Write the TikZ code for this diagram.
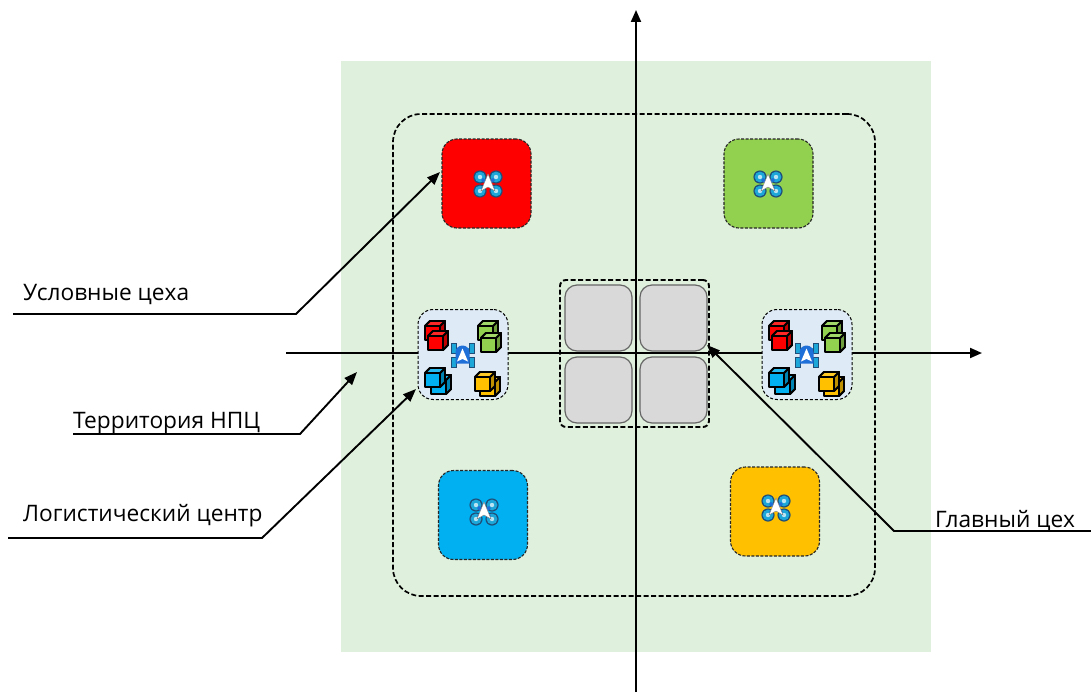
\documentclass[tikz,border=0pt]{standalone}
\usepackage{fontspec}
\setmainfont{Open Sans}
\usetikzlibrary{arrows.meta}
\definecolor{terr}{HTML}{DFF0DC}
\definecolor{cred}{HTML}{FF0000}
\definecolor{cgreen}{HTML}{92D050}
\definecolor{cblue}{HTML}{00B0F0}
\definecolor{corange}{HTML}{FFC000}
\definecolor{clog}{HTML}{DEEBF7}
\definecolor{cgray}{HTML}{D9D9D9}
\definecolor{dronedark}{HTML}{1F4E79}
\definecolor{robotblue}{HTML}{1F6FD8}
\definecolor{dronering}{HTML}{1CA7D8}
\tikzset{
  x=1pt,y=-1pt,
  box/.style={minimum width=#1,minimum height=#1,inner sep=0pt,outer sep=0pt,rounded corners=15pt},
  shop/.style={box=89pt,draw=black!85,dash pattern=on 3pt off 1.5pt,line width=1.1pt,fill=#1},
  logi/.style={box=90pt,draw=black,dash pattern=on 3pt off 2pt,line width=1pt,fill=clog},
  cell/.style={minimum width=67pt,minimum height=66pt,inner sep=0pt,outer sep=0pt,rounded corners=12pt,draw=black!60,line width=1.2pt,fill=cgray},
  zone/.style={draw=black,line width=1.7pt,dash pattern=on 5pt off 2.5pt},
  axis/.style={draw=black,line width=2pt,-{Triangle[length=12pt,width=10pt]}},
  leader/.style={draw=black,line width=1.9pt,-{Triangle[length=13pt,width=10pt]}},
  lab/.style={font=\fontsize{22.7}{27}\selectfont,anchor=base west,inner sep=0pt},
  pics/cube/.style={code={
    \draw[fill=#1,line width=1.9pt,line join=round] (0,5)--(5,0)--(20,0)--(20,14)--(15,19)--(0,19)--cycle;
    \draw[fill=#1!75!black,line width=1.9pt,line join=round] (15,5)--(20,0)--(20,14)--(15,19)--cycle;
    \draw[fill=#1!85!white,line width=1.9pt,line join=round] (0,5)--(5,0)--(20,0)--(15,5)--cycle;
  }},
  pics/drone/.style={code={
    \foreach \a/\b in {-8/-7,8/-7,-8/7,8/7}{
      \fill[dronedark] (\a,\b) circle (6.6);
      \fill[dronering] (\a,\b) circle (5.4);
      \fill[white!70!dronering] (\a,\b) circle (2.2);
    }
    \draw[robotblue,line width=3pt] (-6,-5)--(6,5) (6,-5)--(-6,5);
    \fill[white,draw=black!50,line width=0.4pt] (0,-10)--(7,7)--(0,3)--(-7,7)--cycle;
  }},
  pics/robot/.style={code={
    \draw[dronering,line width=1.6pt] (-9,-7)--(9,-7) (-9,7)--(9,7);
    \foreach \a/\b in {-9/-7,9/-7,-9/7,9/7}{
      \fill[dronering,draw=dronedark,line width=0.7pt] (\a-2.5,\b-5)rectangle(\a+2.5,\b+5);
    }
    \fill[robotblue] (-7,-3)..controls(-7,-8)and(-3,-10)..(0,-10)..controls(3,-10)and(7,-8)..(7,-3)--(7,8)--(-7,8)--cycle;
    \fill[white] (0,-7)--(5.5,6)--(0,3.5)--(-5.5,6)--cycle;
  }}
}
\begin{document}
\begin{tikzpicture}
\useasboundingbox (0,0) rectangle (1091,693);
\fill[white] (0,0) rectangle (1091,693);
\node[minimum width=590pt,minimum height=591pt,inner sep=0pt,fill=terr] (territory) at (636,356.5) {};
\node[minimum width=482pt,minimum height=482pt,inner sep=0pt,outer sep=0pt,rounded corners=28pt,zone] (site) at (634,355) {};
% axes
\coordinate (xs) at (286,353); \coordinate (xe) at (982,353);
\coordinate (ys) at (636,692); \coordinate (ye) at (636,10);
\draw[axis] (xs)--(xe);
\draw[axis] (ys)--(ye);
% central shop
\node[minimum width=149pt,minimum height=147pt,inner sep=0pt,rounded corners=6pt,zone,line width=1.9pt] (main) at (634.5,353.5) {};
\node[cell] (c1) at (598.5,318) {};
\node[cell] (c2) at (673.5,318) {};
\node[cell] (c3) at (598.5,390) {};
\node[cell] (c4) at (673.5,390) {};
% shops
\node[shop=cred] (sred) at (486.5,183.5) {};
\node[shop=cgreen] (sgreen) at (768.5,183.5) {};
\node[shop=cblue] (sblue) at (483,515) {};
\node[shop=corange] (sorange) at (775,511.5) {};
\pic at (488,184) {drone};
\pic at (768,184) {drone};
\pic at (484,512) {drone};
\pic at (776,508) {drone};
% logistics
\node[logi] (la) at (463,354.5) {};
\node[logi] (lb) at (807,354.5) {};
\foreach \o/\n in {0/a,344/b}{
  \begin{scope}[xshift=\o pt]
    \pic at (425,321) {cube=cred};
    \pic at (428,331) {cube=cred};
    \pic at (478,321) {cube=cgreen};
    \pic at (481,333) {cube=cgreen};
    \pic at (431,375) {cube=cblue};
    \pic at (425,368) {cube=cblue};
    \pic at (480,377) {cube=corange};
    \pic at (475,372) {cube=corange};
    \pic at (462.5,355.5) {robot};
  \end{scope}
}
% labels
\node[lab] (t1) at (23,300) {Условные цеха};
\node[lab] (t2) at (73,428) {Территория НПЦ};
\node[lab] (t3) at (23,521) {Логистический центр};
\node[lab] (t4) at (935,527) {Главный цех};
% leaders
\coordinate (a0) at (13,314); \coordinate (a1) at (296,314); \coordinate (a2) at (440,172);
\coordinate (b0) at (73,434); \coordinate (b1) at (300,434); \coordinate (b2) at (357,372);
\coordinate (d0) at (8,538); \coordinate (d1) at (262,538); \coordinate (d2) at (416,389);
\coordinate (e0) at (1091,531); \coordinate (e1) at (894,531); \coordinate (e2) at (707,345);
\draw[leader] (a0)--(a1)--(a2);
\draw[leader] (b0)--(b1)--(b2);
\draw[leader] (d0)--(d1)--(d2);
\draw[leader] (e0)--(e1)--(e2);
\end{tikzpicture}
\end{document}
